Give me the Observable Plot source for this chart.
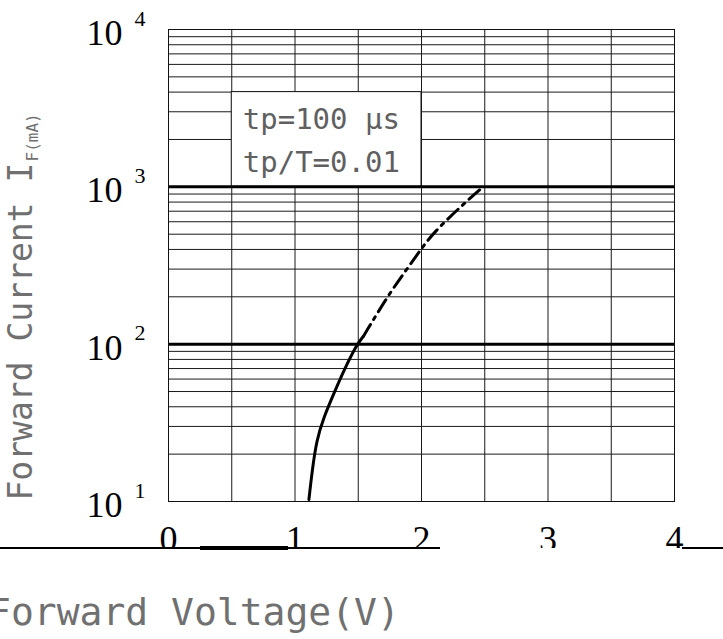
<!DOCTYPE html>
<html><head><meta charset="utf-8">
<script src="https://cdn.jsdelivr.net/npm/d3@7"></script>
<script src="https://cdn.jsdelivr.net/npm/@observablehq/plot@0.6"></script>
<style>
body{margin:0;background:#fff;}
#wrap{position:relative;width:723px;height:639px;overflow:hidden;background:#fff;}
#chart svg{overflow:hidden;}
#axisline{position:absolute;left:0;top:547px;width:723px;height:2px;background:linear-gradient(to right,#000 0 440px,transparent 440px 682px,#000 682px 723px);}
#axisthick{position:absolute;left:200px;top:546px;width:88px;height:4px;background:#000;}
#xlabel{position:absolute;left:-12px;top:593px;font-family:"DejaVu Sans Mono";font-size:38px;line-height:38px;color:#707070;white-space:pre;}
</style></head><body>
<div id="wrap"><div id="chart"></div><div id="axisline"></div><div id="axisthick"></div><div id="xlabel"></div></div>
<script>
// Solid part of the curve (forward voltage V, forward current mA)
const solidV = [1.11, 1.136, 1.17, 1.228, 1.307, 1.386, 1.49, 1.54];
const solidI = [10.3, 15.7, 24.5, 34.4, 48.5, 68.2, 100, 112];
// Dash-dot (pulsed) part of the curve
const dashV = [1.54, 1.729, 1.848, 1.992, 2.097, 2.334, 2.488];
const dashI = [112, 200, 273, 397, 515, 781, 1000];

const xTicks = [0, 1, 2, 3, 4];
const xGrid = [0.5, 1, 1.5, 2, 2.5, 3, 3.5];
const decadeTicks = [10, 100, 1000, 10000];
const decadeBase = "10";
const decadeExp = ["1", "2", "3", "4"];
const minorTicks = [20,30,40,50,60,70,80,90,200,300,400,500,600,700,800,900,2000,3000,4000,5000,6000,7000,8000,9000];
const majorLines = [100, 1000];
const annotationBox = [{x1: 0.5, x2: 2.0, y1: 1000, y2: 4000}];
const annotationLines = ["tp=100 \u03bcs", "tp/T=0.01"];
const yLabel = "Forward Current I";
const ySub = "F(mA)";
const xLabel = "Forward Voltage(V)";

const solid = solidV.map((v, i) => ({v, i: solidI[i]}));
const dash = dashV.map((v, i) => ({v, i: dashI[i]}));

const chart = Plot.plot({
  width: 723,
  height: 548,
  marginLeft: 168,
  marginRight: 49,
  marginTop: 29,
  marginBottom: 47,
  style: {background: "white", overflow: "hidden"},
  x: {domain: [0, 4], axis: null},
  y: {type: "log", domain: [10, 10000], axis: null},
  marks: [
    Plot.gridX(xGrid, {stroke: "#1a1a1a", strokeOpacity: 1, strokeWidth: 1}),
    Plot.gridY(minorTicks, {stroke: "#1a1a1a", strokeOpacity: 1, strokeWidth: 1}),
    Plot.rect(annotationBox, {x1: "x1", x2: "x2", y1: "y1", y2: "y2", fill: "white", stroke: "#111", strokeWidth: 1}),
    Plot.ruleY(majorLines, {stroke: "#000", strokeWidth: 3}),
    Plot.frame({stroke: "#111", strokeWidth: 1}),
    Plot.line(solid, {x: "v", y: "i", stroke: "#000", strokeWidth: 3, curve: "basis"}),
    Plot.line(dash, {x: "v", y: "i", stroke: "#000", strokeWidth: 3, curve: "basis", strokeDasharray: "14,6,3,6"}),
    Plot.text([annotationLines[0]], {x: () => annotationBox[0].x1, y: () => annotationBox[0].y1, text: d => d, textAnchor: "start", dx: 11, dy: -67, fontSize: 29, fontFamily: "DejaVu Sans Mono", fill: "#606060"}),
    Plot.text([annotationLines[1]], {x: () => annotationBox[0].x1, y: () => annotationBox[0].y1, text: d => d, textAnchor: "start", dx: 11, dy: -24, fontSize: 29, fontFamily: "DejaVu Sans Mono", fill: "#606060"}),
    Plot.axisY(decadeTicks, {tickFormat: () => decadeBase, tickSize: 0, tickPadding: 46, fontSize: 36, fontFamily: "Liberation Serif", fill: "#000", dy: 4, label: null}),
    Plot.axisY(decadeTicks, {tickFormat: d => decadeExp[decadeTicks.indexOf(d)], textAnchor: "start", tickSize: 0, tickPadding: 34, fontSize: 22, fontFamily: "Liberation Serif", fill: "#000", dy: -11, label: null}),
    Plot.axisX(xTicks, {tickFormat: d => `${d}`, tickSize: 0, tickPadding: 24, fontSize: 36, fontFamily: "Liberation Serif", fill: "#000", label: null}),
    Plot.text([yLabel], {frameAnchor: "bottom-left", rotate: -90, text: d => d, textAnchor: "start", dx: -137, dy: -1, fontSize: 33, fontFamily: "DejaVu Sans Mono", fill: "#707070"}),
    Plot.text([ySub], {frameAnchor: "bottom-left", rotate: -90, text: d => d, textAnchor: "start", dx: -131, dy: -340, fontSize: 16, fontFamily: "DejaVu Sans Mono", fill: "#707070"})
  ]
});
document.getElementById("chart").appendChild(chart);
document.getElementById("xlabel").textContent = xLabel;
</script>
</body></html>
